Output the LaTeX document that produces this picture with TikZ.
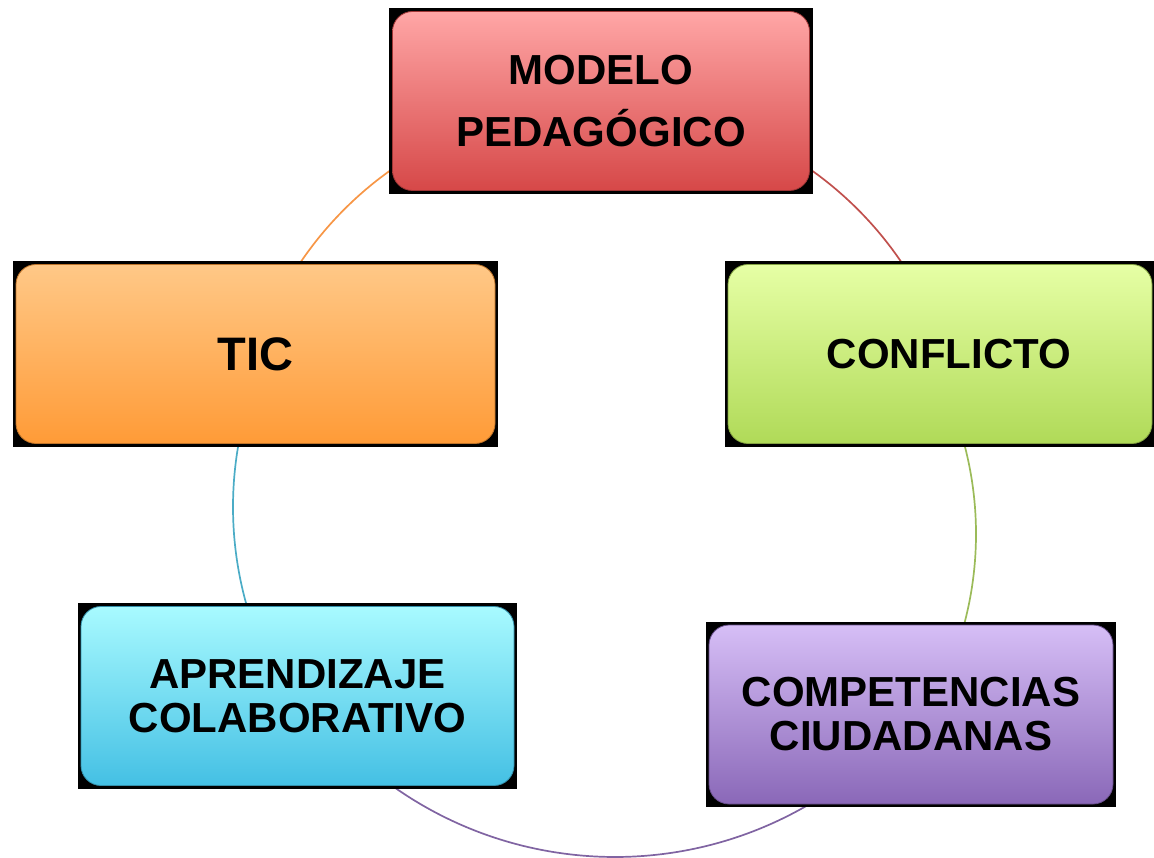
\documentclass[tikz,border=0pt]{standalone}
\usepackage{fontspec}
\setmainfont{Liberation Sans}
\usetikzlibrary{backgrounds,calc}
\definecolor{mTop}{RGB}{255,166,166}
\definecolor{mBot}{RGB}{214,72,72}
\definecolor{tTop}{RGB}{255,200,135}
\definecolor{tBot}{RGB}{255,155,55}
\definecolor{cTop}{RGB}{230,255,165}
\definecolor{cBot}{RGB}{176,218,88}
\definecolor{aTop}{RGB}{168,250,255}
\definecolor{aBot}{RGB}{68,192,228}
\definecolor{pTop}{RGB}{214,190,246}
\definecolor{pBot}{RGB}{138,104,184}
\definecolor{arcOrange}{RGB}{247,150,70}
\definecolor{arcRed}{RGB}{192,80,77}
\definecolor{arcGreen}{RGB}{155,187,89}
\definecolor{arcPurple}{RGB}{128,100,162}
\definecolor{arcTeal}{RGB}{75,172,198}
\begin{document}
\begin{tikzpicture}[x=1pt,y=-1pt,
  box/.style 2 args={rounded corners=20pt, inner sep=0pt, align=center,
    minimum height=179pt, top color=#1, bottom color=#2,
    draw=#2!75!black, line width=0.8pt,
    font=\fontsize{42}{44}\selectfont\bfseries},
  ring/.style={line width=1.7pt}]
\useasboundingbox (0,0) rectangle (1154,858);
\coordinate (Otop) at (601,466);
\coordinate (Ogreen) at (626,534);
\coordinate (Opurple) at (615,473);
\coordinate (Oteal) at (594,507);
\node[box={mTop}{mBot}, minimum width=417pt, font=\fontsize{42}{62}\selectfont\bfseries] (m) at (601,101) {MODELO\\PEDAGÓGICO};
\node[box={tTop}{tBot}, minimum width=479pt, font=\fontsize{47}{50}\selectfont\bfseries] (t) at (255.5,354) {TIC};
\node[box={cTop}{cBot}, minimum width=424pt] (c) at (940,354) {\hspace*{18pt}CONFLICTO};
\node[box={aTop}{aBot}, minimum width=433pt] (a) at (297.5,696) {APRENDIZAJE\\COLABORATIVO};
\node[box={pTop}{pBot}, minimum width=404pt] (p) at (911,714.5) {COMPETENCIAS\\CIUDADANAS};
\begin{scope}[on background layer]
  \draw[ring, arcOrange] (Otop) ++(205:363) arc[start angle=205, end angle=245, radius=363];
  \draw[ring, arcRed] (Otop) ++(300:363) arc[start angle=300, end angle=332, radius=363];
  \draw[ring, arcGreen] (Ogreen) ++(-22:350) arc[start angle=-22, end angle=22, radius=350];
  \draw[ring, arcPurple] (Opurple) ++(55:384) arc[start angle=55, end angle=130, radius=384];
  \draw[ring, arcTeal] (Oteal) ++(155:361) arc[start angle=155, end angle=198, radius=361];
  \foreach \n in {m,t,c,a,p}
    \fill[black] ($(\n.south west)+(-3,3)$) rectangle ($(\n.north east)+(3,-3)$);
\end{scope}
\end{tikzpicture}
\end{document}
